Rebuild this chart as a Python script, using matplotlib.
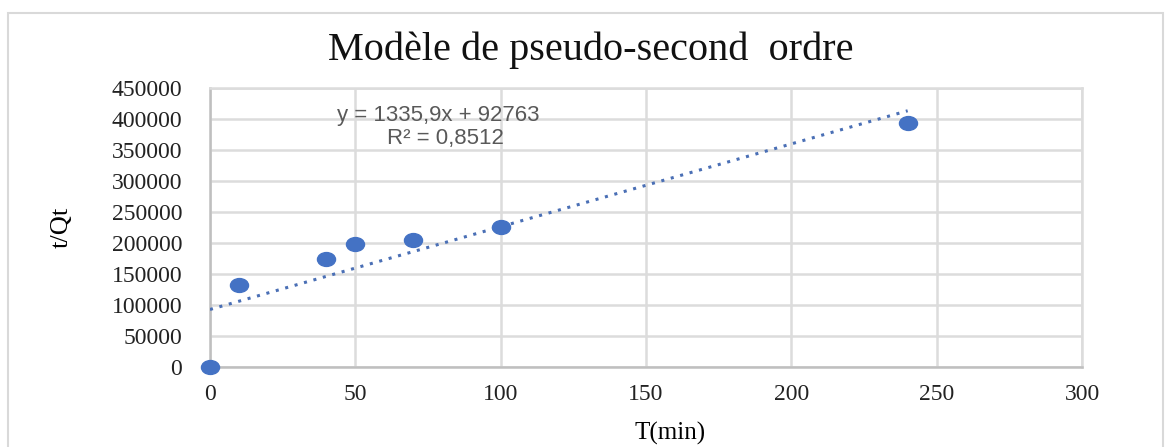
import numpy as np
import matplotlib
matplotlib.use("Agg")
import matplotlib.pyplot as plt
from matplotlib.patches import Rectangle
from matplotlib.path import Path

# temps (min) et t/Qt
temps = [0, 10, 40, 50, 70, 100, 240]
t_sur_qt = [0, 133000, 174000, 199000, 205000, 226000, 393000]

# droite de tendance (Excel)
pente = 1335.9
ordonnee = 92763
r2 = 0.8512

x_ticks = [0, 50, 100, 150, 200, 250, 300]
y_ticks = [0, 50000, 100000, 150000, 200000, 250000, 300000, 350000, 400000, 450000]

# marqueur légèrement elliptique
cercle = Path.unit_circle()
ellipse = Path(cercle.vertices * [1.3, 1.0], cercle.codes)

fig = plt.figure(figsize=(11.73, 4.47), dpi=100)
fig.patches.append(Rectangle((8 / 1173, -0.1), 1155 / 1173, 1.1 - 13 / 447,
                             transform=fig.transFigure, fill=False,
                             edgecolor="#d9d9d9", linewidth=1.5))

ax = fig.add_axes([0.179, 0.179, 0.7435, 0.624])

# droite x = 0 .. 240
xt = np.array([0, 240])
ax.plot(xt, pente * xt + ordonnee, linestyle=(0, (1, 2.2)), color="#4a6fb5",
        linewidth=2.2, zorder=3)
ax.plot(temps, t_sur_qt, marker=ellipse, linestyle="none", color="#4472c4",
        markersize=13, zorder=4, clip_on=False)

ax.set_xlim(0, 300)
ax.set_ylim(0, 450000)
ax.set_xticks(x_ticks)
ax.set_yticks(y_ticks)
ax.grid(True, color="#dcdcdc", linewidth=1.8)
ax.set_axisbelow(True)
ax.tick_params(length=0, labelsize=17, labelcolor="#222222")
ax.tick_params(axis="x", pad=12)
ax.tick_params(axis="y", pad=20)
for lab in ax.get_xticklabels() + ax.get_yticklabels():
    lab.set_family("Liberation Serif")
for s in ax.spines.values():
    s.set_color("#dcdcdc")
    s.set_linewidth(1.8)
ax.spines["bottom"].set_color("#bfbfbf")
ax.spines["left"].set_color("#bfbfbf")

ax.set_xlabel("T(min)", family="Liberation Serif", fontsize=18)
ax.set_ylabel("t/Qt", family="Liberation Serif", fontsize=19)
ax.xaxis.set_label_coords(0.527, -0.237)
ax.yaxis.set_label_coords(-0.170, 0.5)
ax.xaxis.label.set_va("center")
ax.yaxis.label.set_va("center")

fig.text(0.504, 0.888, "Modèle de pseudo-second  ordre", family="Liberation Serif",
         fontsize=29, ha="center", va="center", color="#111111")

ax.text(78.4, 406000, "y = 1335,9x + 92763", family="Liberation Sans",
        fontsize=16, color="#595959", ha="center", va="center")
ax.text(81, 368000, "R² = 0,8512", family="Liberation Sans",
        fontsize=16, color="#595959", ha="center", va="center")

fig.savefig("out.png", dpi=100, facecolor="white")
